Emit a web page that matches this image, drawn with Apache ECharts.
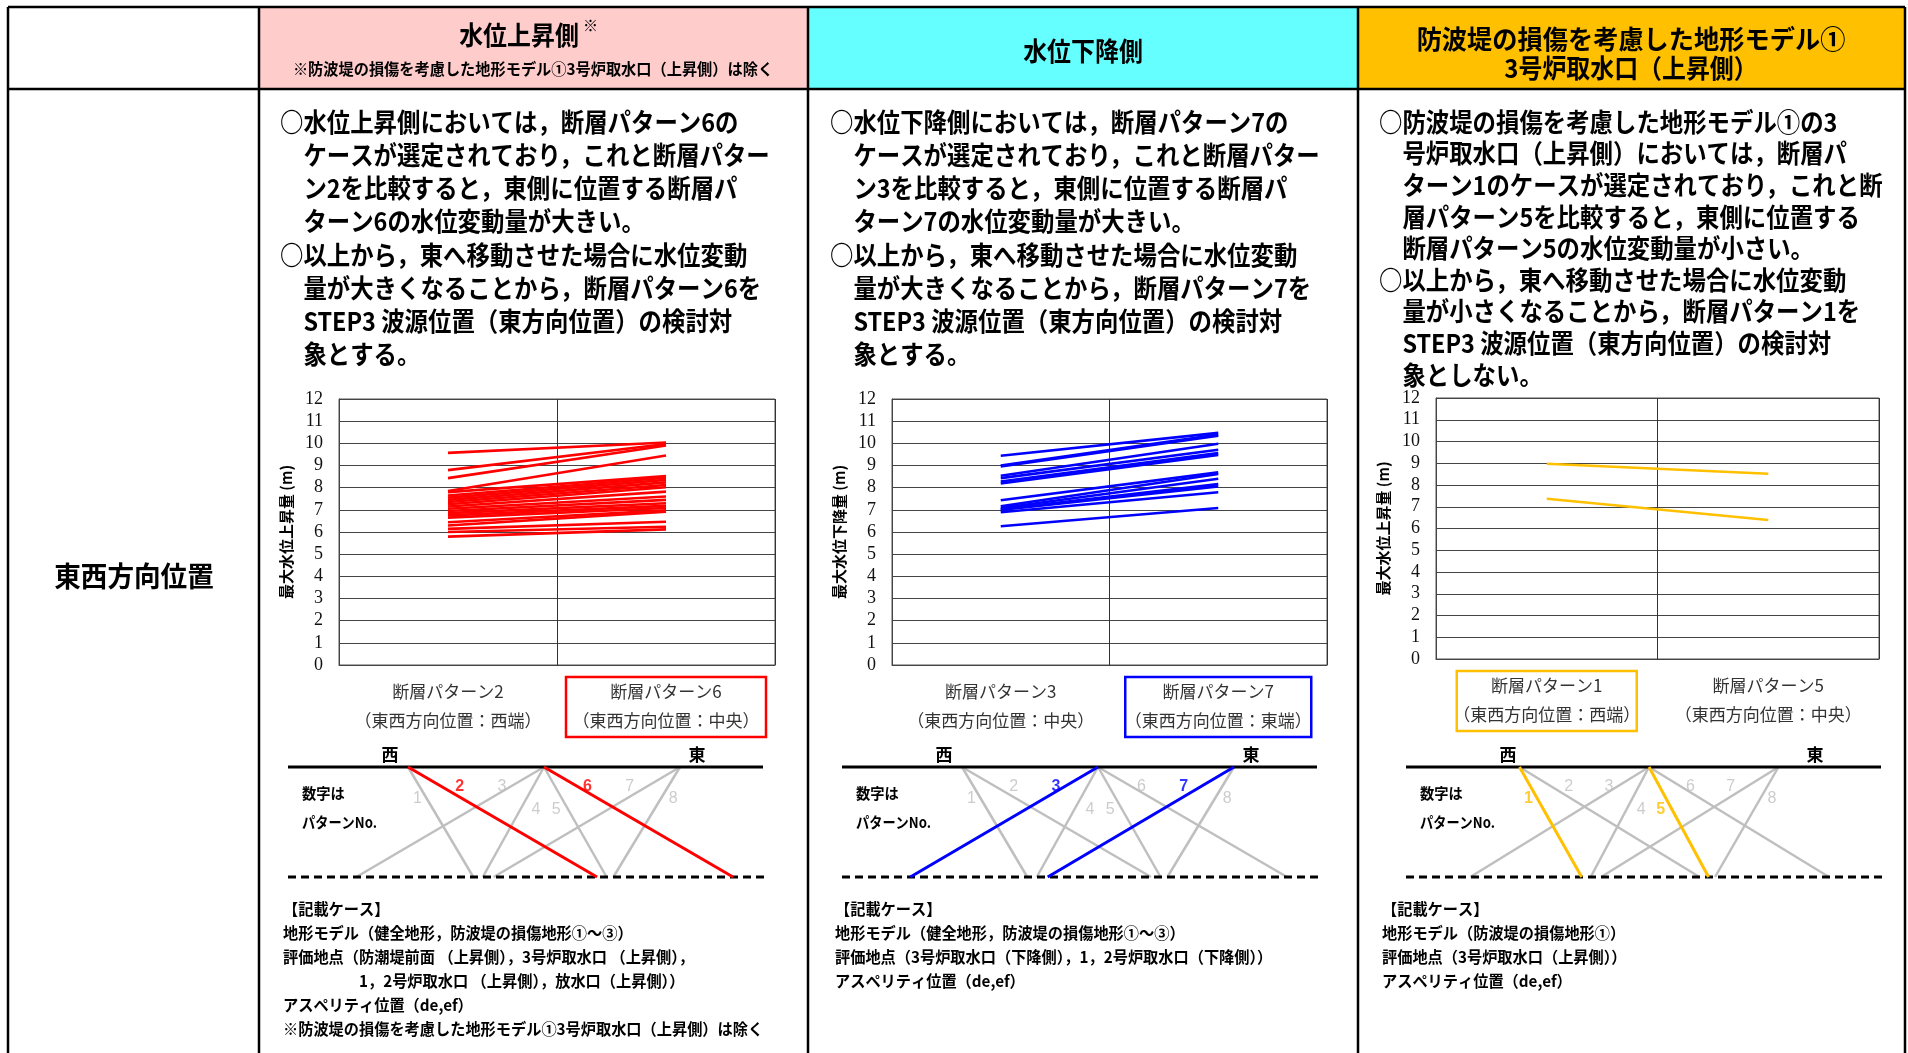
<!DOCTYPE html>
<html>
<head>
<meta charset="utf-8">
<script src="https://cdn.jsdelivr.net/npm/echarts@6/dist/echarts.min.js"></script>
<style>
html, body { margin: 0; padding: 0; background: #fff; }
#main { width: 1908px; height: 1053px; }
</style>
</head>
<body>
<div id="main"></div>
<script>
// categories of the three small charts
var catsRise = ['断層パターン2\n（東西方向位置：西端）', '断層パターン6\n（東西方向位置：中央）'];
var catsFall = ['断層パターン3\n（東西方向位置：中央）', '断層パターン7\n（東西方向位置：東端）'];
var catsDamage = ['断層パターン1\n（東西方向位置：西端）', '断層パターン5\n（東西方向位置：中央）'];

// max water level (m), paired by index: left category -> right category
var pattern2Rise = [9.57, 8.79, 8.43, 7.85, 7.80, 7.65, 7.55, 7.45, 7.35, 7.25, 7.15, 7.05, 6.95, 6.85, 6.75, 6.65, 6.44, 6.29, 6.14, 6.00, 5.79];
var pattern6Rise = [10.04, 9.97, 9.90, 9.45, 8.52, 8.45, 8.35, 8.24, 8.12, 8.02, 7.82, 7.60, 7.45, 7.30, 7.18, 7.08, 6.98, 6.92, 6.46, 6.24, 6.12];
var pattern3Fall = [9.44, 9.00, 8.96, 8.54, 8.43, 8.28, 8.19, 7.43, 7.16, 7.08, 7.03, 7.00, 6.89, 6.26];
var pattern7Fall = [10.47, 10.40, 10.34, 9.98, 9.71, 9.56, 9.48, 8.69, 8.62, 8.40, 8.16, 8.06, 7.79, 7.08];
var pattern1Rise = [8.98, 7.37];
var pattern5Rise = [8.52, 6.39];

var yTicks = [0, 12, 1]; // min, max, interval

// fault pattern sketch (schematic units: west=1, centre=2, east=3)
var faultNames = ['1', '2', '3', '4', '5', '6', '7', '8'];
var faultTop = [1, 1, 2, 2, 2, 2, 3, 3];
var faultBottom = [1.48, 2.39, 0.62, 1.55, 2.46, 3.39, 1.63, 2.51];
var faultLabelX = [1.07, 1.38, 1.69, 1.94, 2.09, 2.32, 2.63, 2.95];
var faultLabelY = [0.71, 0.82, 0.82, 0.61, 0.61, 0.82, 0.82, 0.71];
var highlight = [['2', '6'], ['3', '7'], ['1', '5']];

var chart = echarts.init(document.getElementById('main'));

var JP = 'Noto Sans CJK JP';
var colColors = ['#FF0000', '#0000FF', '#FFC000'];
var chartGrids = [
    {left: 339, top: 399, width: 436, height: 266},
    {left: 892, top: 399, width: 435, height: 266},
    {left: 1436, top: 398, width: 443, height: 261}
];
var diagLeft = [272, 826, 1390];
var diagTop = 767, diagH = 110, unitW = 136;
var boxIndex = [1, 1, 0];
var boxW = [200, 186, 180];
var yNames = ['最大水位上昇量 (m)', '最大水位下降量 (m)', '最大水位上昇量 (m)'];
var allCats = [catsRise, catsFall, catsDamage];
var leftVals = [pattern2Rise, pattern3Fall, pattern1Rise];
var rightVals = [pattern6Rise, pattern7Fall, pattern5Rise];

function txt(x, y, s, size, o) {
    o = o || {};
    return {
        type: 'text', x: x, y: y, scaleX: o.sx || 1, z: 10,
        style: {
            text: s, fontSize: size, fontFamily: o.font || JP,
            fontWeight: o.weight || 'bold', fill: o.color || '#000',
            align: o.align || 'left', textAlign: o.align || 'left',
            verticalAlign: o.va || 'middle', textVerticalAlign: o.va || 'middle',
            lineHeight: o.lh
        }
    };
}
function line(x1, y1, x2, y2, w, dash) {
    return {
        type: 'line', z: 5,
        shape: {x1: x1, y1: y1, x2: x2, y2: y2},
        style: {stroke: '#000', lineWidth: w, lineDash: dash || null}
    };
}

var grids = [], xAxes = [], yAxes = [], series = [];

chartGrids.forEach(function (g, c) {
    grids.push({left: g.left, top: g.top, width: g.width, height: g.height,
        show: true, borderColor: '#555', borderWidth: 1});
    xAxes.push({
        type: 'category', gridIndex: c, data: allCats[c],
        axisTick: {show: false},
        axisLine: {lineStyle: {color: '#444'}},
        splitLine: {show: true, interval: 0, lineStyle: {color: '#333', width: 1}},
        axisLabel: {interval: 0, fontFamily: JP, fontSize: 17, lineHeight: 29, color: '#333', margin: 12}
    });
    yAxes.push({
        type: 'value', gridIndex: c, min: yTicks[0], max: yTicks[1], interval: yTicks[2],
        name: yNames[c], nameLocation: 'middle', nameGap: 45,
        nameTextStyle: {fontFamily: JP, fontWeight: 'bold', fontSize: 15, color: '#000'},
        axisLine: {show: true, lineStyle: {color: '#444'}},
        axisTick: {show: false},
        splitLine: {lineStyle: {color: '#444', width: 1.2}},
        axisLabel: {fontFamily: 'Liberation Serif', fontSize: 18, color: '#111', margin: 16}
    });
    leftVals[c].forEach(function (v, i) {
        series.push({
            type: 'line', xAxisIndex: c, yAxisIndex: c, symbol: 'none', silent: true,
            data: [v, rightVals[c][i]],
            lineStyle: {color: colColors[c], width: 2.6}
        });
    });
});

diagLeft.forEach(function (dl, c) {
    var gi = 3 + c;
    var hl = highlight[c];
    grids.push({left: dl, top: diagTop, width: unitW * 4, height: diagH});
    xAxes.push({type: 'value', gridIndex: gi, min: 0, max: 4, show: false});
    yAxes.push({type: 'value', gridIndex: gi, min: 0, max: 1, show: false});
    faultNames.forEach(function (n, i) {
        var on = hl.indexOf(n) >= 0;
        series.push({
            type: 'line', xAxisIndex: gi, yAxisIndex: gi, symbol: 'none', silent: true,
            z: on ? 6 : 3,
            data: [[faultTop[i], 1], [faultBottom[i], 0]],
            lineStyle: {color: on ? colColors[c] : '#BFBFBF', width: on ? 3 : 2.5}
        });
    });
    series.push({
        type: 'scatter', xAxisIndex: gi, yAxisIndex: gi, silent: true, z: 8,
        symbolSize: 1, itemStyle: {color: 'rgba(0,0,0,0)'},
        data: faultNames.map(function (n, i) {
            var on = hl.indexOf(n) >= 0;
            return {
                value: [faultLabelX[i], faultLabelY[i], n],
                label: {color: on ? colColors[c] : '#BFBFBF', fontWeight: on ? 'bold' : 'normal'}
            };
        }),
        label: {
            show: true, position: 'inside',
            formatter: function (p) { return p.value[2]; },
            fontFamily: 'Liberation Sans', fontSize: 16
        }
    });
});

// table, headers and texts
var G = [];
var top0 = 7, headB = 89, bottom0 = 1053;
var xs = [8, 259, 808, 1358, 1905];
G.push({type: 'rect', shape: {x: 259, y: top0, width: 549, height: headB - top0}, style: {fill: '#FFCCCC'}, z: 1});
G.push({type: 'rect', shape: {x: 808, y: top0, width: 550, height: headB - top0}, style: {fill: '#66FFFF'}, z: 1});
G.push({type: 'rect', shape: {x: 1358, y: top0, width: 547, height: headB - top0}, style: {fill: '#FFC000'}, z: 1});
G.push(line(xs[0], top0, xs[4], top0, 2.5));
G.push(line(xs[0], headB, xs[4], headB, 2.5));
xs.forEach(function (x) { G.push(line(x, top0, x, bottom0, 2.5)); });

G.push(txt(519, 35, '水位上昇側', 26, {align: 'center', sx: 0.92}));
G.push(txt(583, 25, '※', 15, {align: 'left'}));
G.push(txt(533, 69, '※防波堤の損傷を考慮した地形モデル①3号炉取水口（上昇側）は除く', 16, {align: 'center', sx: 0.95}));
G.push(txt(1083, 51, '水位下降側', 26, {align: 'center', sx: 0.92}));
G.push(txt(1631, 39, '防波堤の損傷を考慮した地形モデル①', 26, {align: 'center', sx: 0.97}));
G.push(txt(1631, 68, '3号炉取水口（上昇側）', 26, {align: 'center', sx: 0.92}));
G.push(txt(134, 576, '東西方向位置', 28, {align: 'center', sx: 0.95}));

var bodyX = [280, 830, 1379];
var bodyLH = [33.2, 33.2, 31.6];
var bodies = [
    ['○水位上昇側においては，断層パターン6の', '　ケースが選定されており，これと断層パター', '　ン2を比較すると，東側に位置する断層パ', '　ターン6の水位変動量が大きい。',
     '○以上から，東へ移動させた場合に水位変動', '　量が大きくなることから，断層パターン6を', '　STEP3 波源位置（東方向位置）の検討対', '　象とする。'],
    ['○水位下降側においては，断層パターン7の', '　ケースが選定されており，これと断層パター', '　ン3を比較すると，東側に位置する断層パ', '　ターン7の水位変動量が大きい。',
     '○以上から，東へ移動させた場合に水位変動', '　量が大きくなることから，断層パターン7を', '　STEP3 波源位置（東方向位置）の検討対', '　象とする。'],
    ['○防波堤の損傷を考慮した地形モデル①の3', '　号炉取水口（上昇側）においては，断層パ', '　ターン1のケースが選定されており，これと断', '　層パターン5を比較すると，東側に位置する', '　断層パターン5の水位変動量が小さい。',
     '○以上から，東へ移動させた場合に水位変動', '　量が小さくなることから，断層パターン1を', '　STEP3 波源位置（東方向位置）の検討対', '　象としない。']
];
bodies.forEach(function (b, c) {
    G.push(txt(bodyX[c], 122 - bodyLH[c] / 2, b.join('\n'), 26, {va: 'top', lh: bodyLH[c], sx: 0.9}));
});

var noteX = [283, 835, 1382];
var notes = [
    ['【記載ケース】', '地形モデル（健全地形，防波堤の損傷地形①～③）', '評価地点（防潮堤前面 （上昇側），3号炉取水口 （上昇側），',
     '　　　　　1，2号炉取水口 （上昇側），放水口（上昇側））', 'アスペリティ位置（de,ef）', '※防波堤の損傷を考慮した地形モデル①3号炉取水口（上昇側）は除く'],
    ['【記載ケース】', '地形モデル（健全地形，防波堤の損傷地形①～③）', '評価地点（3号炉取水口（下降側），1，2号炉取水口（下降側））', 'アスペリティ位置（de,ef）'],
    ['【記載ケース】', '地形モデル（防波堤の損傷地形①）', '評価地点（3号炉取水口（上昇側））', 'アスペリティ位置（de,ef）']
];
notes.forEach(function (n, c) {
    G.push(txt(noteX[c], 897, n.join('\n'), 16, {va: 'top', lh: 24, sx: 0.95}));
});

diagLeft.forEach(function (dl, c) {
    var west = dl + unitW, east = dl + unitW * 3;
    G.push(line(dl + 16, diagTop, dl + 491, diagTop, 3));
    G.push(line(dl + 16, diagTop + diagH, dl + 495, diagTop + diagH, 3, [8, 5]));
    G.push(txt(west - 18, 755, '西', 17, {align: 'center'}));
    G.push(txt(east + 17, 755, '東', 17, {align: 'center'}));
    G.push(txt(west - 106, 793, '数字は', 15, {sx: 0.95}));
    G.push(txt(west - 106, 822, 'パターンNo.', 15, {sx: 0.88}));
});

chart.setOption({
    animation: false,
    grid: grids,
    xAxis: xAxes,
    yAxis: yAxes,
    series: series,
    graphic: G
});

// boxes around the selected categories
var boxes = [];
chartGrids.forEach(function (g, c) {
    var px = chart.convertToPixel({xAxisIndex: c}, allCats[c][boxIndex[c]]);
    boxes.push({
        type: 'rect', z: 10,
        shape: {x: px - boxW[c] / 2, y: g.top + g.height + 12, width: boxW[c], height: 60},
        style: {fill: 'none', stroke: colColors[c], lineWidth: 2.5}
    });
});
chart.setOption({graphic: G.concat(boxes)});
</script>
</body>
</html>
